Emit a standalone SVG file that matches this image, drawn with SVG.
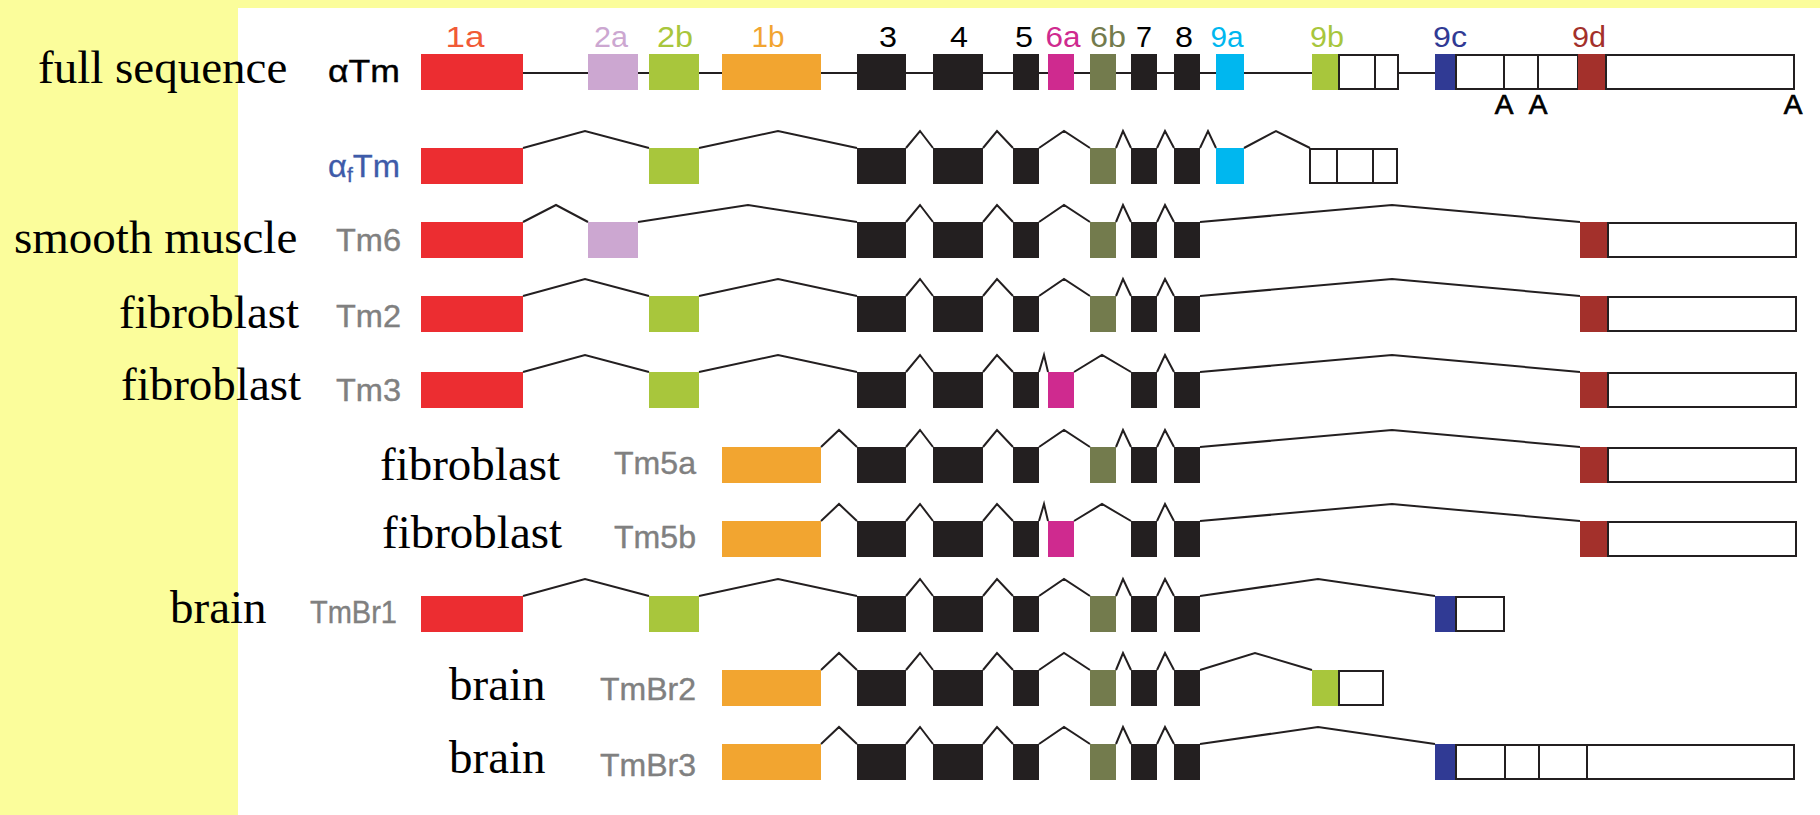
<svg xmlns="http://www.w3.org/2000/svg" width="1820" height="815" viewBox="0 0 1820 815">
<style>
.e1a{fill:#EC2D31}.e2a{fill:#CCA7D1}.e2b{fill:#A8C63C}.e1b{fill:#F2A530}.k{fill:#231F20}
.e6a{fill:#CF2A8F}.e6b{fill:#737B4D}.e9a{fill:#00B7EF}.e9c{fill:#303A94}.e9d{fill:#A3302B}
.u{fill:#fff;stroke:#231F20;stroke-width:2}
.intr{fill:none;stroke:#231F20;stroke-width:2}
.ser{font-family:"Liberation Serif","Times New Roman",serif;font-size:47px;fill:#000}
.sans{font-family:"Liberation Sans",Arial,sans-serif}
.ex{font-size:29px;text-anchor:middle}
.gn{font-size:32px;fill:#808080;stroke:#808080;stroke-width:0.4}
.pa{font-size:28px;text-anchor:middle;fill:#000;stroke:#000;stroke-width:0.7}
</style>
<rect x="0" y="0" width="1820" height="815" fill="#FBFD9B"/>
<rect x="238" y="8" width="1582" height="807" fill="#fff"/>

<g id="connectors">
<line x1="523" y1="73" x2="1435" y2="73" stroke="#231F20" stroke-width="2"/>
<path class="intr" d="M523,148 L585,131 L649,148 M699,148 L778,131 L857,148 M906,148 L920,131 L933,148 M983,148 L997,131 L1013,148 M1039,148 L1064,131 L1090,148 M1116,148 L1123,131 L1131,148 M1157,148 L1165,131 L1174,148 M1200,148 L1208,131 L1216,148 M1244,148 L1276,131 L1310,148"/>
<path class="intr" d="M523,222 L556,205 L588,222 M638,222 L748,205 L857,222 M906,222 L920,205 L933,222 M983,222 L997,205 L1013,222 M1039,222 L1064,205 L1090,222 M1116,222 L1123,205 L1131,222 M1157,222 L1165,205 L1174,222 M1200,222 L1392,205 L1580,222"/>
<path class="intr" d="M523,296 L585,279 L649,296 M699,296 L778,279 L857,296 M906,296 L920,279 L933,296 M983,296 L997,279 L1013,296 M1039,296 L1064,279 L1090,296 M1116,296 L1123,279 L1131,296 M1157,296 L1165,279 L1174,296 M1200,296 L1392,279 L1580,296"/>
<path class="intr" d="M523,372 L585,355 L649,372 M699,372 L778,355 L857,372 M906,372 L920,355 L933,372 M983,372 L997,355 L1013,372 M1039,372 L1044,355 L1048,372 M1074,372 L1102,355 L1131,372 M1157,372 L1165,355 L1174,372 M1200,372 L1392,355 L1580,372"/>
<path class="intr" d="M821,447 L839,430 L857,447 M906,447 L920,430 L933,447 M983,447 L997,430 L1013,447 M1039,447 L1064,430 L1090,447 M1116,447 L1123,430 L1131,447 M1157,447 L1165,430 L1174,447 M1200,447 L1392,430 L1580,447"/>
<path class="intr" d="M821,521 L839,504 L857,521 M906,521 L920,504 L933,521 M983,521 L997,504 L1013,521 M1039,521 L1044,504 L1048,521 M1074,521 L1102,504 L1131,521 M1157,521 L1165,504 L1174,521 M1200,521 L1392,504 L1580,521"/>
<path class="intr" d="M523,596 L585,579 L649,596 M699,596 L778,579 L857,596 M906,596 L920,579 L933,596 M983,596 L997,579 L1013,596 M1039,596 L1064,579 L1090,596 M1116,596 L1123,579 L1131,596 M1157,596 L1165,579 L1174,596 M1200,596 L1318,579 L1435,596"/>
<path class="intr" d="M821,670 L839,653 L857,670 M906,670 L920,653 L933,670 M983,670 L997,653 L1013,670 M1039,670 L1064,653 L1090,670 M1116,670 L1123,653 L1131,670 M1157,670 L1165,653 L1174,670 M1200,670 L1255,653 L1312,670"/>
<path class="intr" d="M821,744 L839,727 L857,744 M906,744 L920,727 L933,744 M983,744 L997,727 L1013,744 M1039,744 L1064,727 L1090,744 M1116,744 L1123,727 L1131,744 M1157,744 L1165,727 L1174,744 M1200,744 L1318,727 L1435,744"/>
</g>

<g id="tissue-labels" class="ser">
<text x="38" y="83">full sequence</text>
<text x="14" y="253">smooth muscle</text>
<text x="119" y="328">fibroblast</text>
<text x="121" y="400">fibroblast</text>
<text x="380" y="480">fibroblast</text>
<text x="382" y="548">fibroblast</text>
<text x="170" y="623">brain</text>
<text x="449" y="700">brain</text>
<text x="449" y="773">brain</text>
</g>

<g id="row-aTm">
<g class="sans ex">
<text x="465" y="47" fill="#F15A36" textLength="39" lengthAdjust="spacingAndGlyphs">1a</text>
<text x="611" y="47" fill="#CCA7D1" textLength="34" lengthAdjust="spacingAndGlyphs">2a</text>
<text x="675" y="47" fill="#A8C63C" textLength="36" lengthAdjust="spacingAndGlyphs">2b</text>
<text x="768" y="47" fill="#F2A530" textLength="33" lengthAdjust="spacingAndGlyphs">1b</text>
<text x="888" y="47" fill="#000" textLength="18" lengthAdjust="spacingAndGlyphs">3</text>
<text x="959" y="47" fill="#000" textLength="18" lengthAdjust="spacingAndGlyphs">4</text>
<text x="1024" y="47" fill="#000" textLength="18" lengthAdjust="spacingAndGlyphs">5</text>
<text x="1063" y="47" fill="#CF2A8F" textLength="35" lengthAdjust="spacingAndGlyphs">6a</text>
<text x="1108" y="47" fill="#737B4D" textLength="36" lengthAdjust="spacingAndGlyphs">6b</text>
<text x="1144" y="47" fill="#000" textLength="16" lengthAdjust="spacingAndGlyphs">7</text>
<text x="1184" y="47" fill="#000" textLength="18" lengthAdjust="spacingAndGlyphs">8</text>
<text x="1227" y="47" fill="#00B7EF" textLength="33" lengthAdjust="spacingAndGlyphs">9a</text>
<text x="1327" y="47" fill="#A8C63C" textLength="34" lengthAdjust="spacingAndGlyphs">9b</text>
<text x="1450" y="47" fill="#303A94" textLength="34" lengthAdjust="spacingAndGlyphs">9c</text>
<text x="1589" y="47" fill="#A3302B" textLength="34" lengthAdjust="spacingAndGlyphs">9d</text>
</g>
<text class="sans" x="328" y="82" font-size="31" fill="#000" stroke="#000" stroke-width="0.4" textLength="72" lengthAdjust="spacingAndGlyphs">αTm</text>
<rect class="e1a" x="421" y="54" width="102" height="36"/>
<rect class="e2a" x="588" y="54" width="50" height="36"/>
<rect class="e2b" x="649" y="54" width="50" height="36"/>
<rect class="e1b" x="722" y="54" width="99" height="36"/>
<rect class="k" x="857" y="54" width="49" height="36"/>
<rect class="k" x="933" y="54" width="50" height="36"/>
<rect class="k" x="1013" y="54" width="26" height="36"/>
<rect class="e6a" x="1048" y="54" width="26" height="36"/>
<rect class="e6b" x="1090" y="54" width="26" height="36"/>
<rect class="k" x="1131" y="54" width="26" height="36"/>
<rect class="k" x="1174" y="54" width="26" height="36"/>
<rect class="e9a" x="1216" y="54" width="28" height="36"/>
<rect class="e2b" x="1312" y="54" width="26" height="36"/>
<rect class="u" x="1339" y="55" width="36" height="34"/>
<rect class="u" x="1375" y="55" width="23" height="34"/>
<rect class="e9c" x="1435" y="54" width="21" height="36"/>
<rect class="u" x="1456" y="55" width="48" height="34"/>
<rect class="u" x="1504" y="55" width="34" height="34"/>
<rect class="u" x="1538" y="55" width="40" height="34"/>
<rect class="e9d" x="1578" y="54" width="27" height="36"/>
<rect class="u" x="1606" y="55" width="188" height="34"/>
<g class="sans pa">
<text x="1504" y="114">A</text>
<text x="1538" y="114">A</text>
<text x="1793" y="114">A</text>
</g>
</g>

<g id="row-afTm">
<text class="sans" x="328" y="177" font-size="31" fill="#3E5BA9" stroke="#3E5BA9" stroke-width="0.3" textLength="72" lengthAdjust="spacingAndGlyphs">α<tspan font-size="20" dy="5">f</tspan><tspan dy="-5">Tm</tspan></text>
<rect class="e1a" x="421" y="148" width="102" height="36"/>
<rect class="e2b" x="649" y="148" width="50" height="36"/>
<rect class="k" x="857" y="148" width="49" height="36"/>
<rect class="k" x="933" y="148" width="50" height="36"/>
<rect class="k" x="1013" y="148" width="26" height="36"/>
<rect class="e6b" x="1090" y="148" width="26" height="36"/>
<rect class="k" x="1131" y="148" width="26" height="36"/>
<rect class="k" x="1174" y="148" width="26" height="36"/>
<rect class="e9a" x="1216" y="148" width="28" height="36"/>
<rect class="u" x="1310" y="149" width="27" height="34"/>
<rect class="u" x="1337" y="149" width="36" height="34"/>
<rect class="u" x="1373" y="149" width="24" height="34"/>
</g>

<g id="row-Tm6">
<text class="sans gn" x="336" y="251" textLength="65" lengthAdjust="spacingAndGlyphs">Tm6</text>
<rect class="e1a" x="421" y="222" width="102" height="36"/>
<rect class="e2a" x="588" y="222" width="50" height="36"/>
<rect class="k" x="857" y="222" width="49" height="36"/>
<rect class="k" x="933" y="222" width="50" height="36"/>
<rect class="k" x="1013" y="222" width="26" height="36"/>
<rect class="e6b" x="1090" y="222" width="26" height="36"/>
<rect class="k" x="1131" y="222" width="26" height="36"/>
<rect class="k" x="1174" y="222" width="26" height="36"/>
<rect class="e9d" x="1580" y="222" width="27" height="36"/>
<rect class="u" x="1608" y="223" width="188" height="34"/>
</g>

<g id="row-Tm2">
<text class="sans gn" x="336" y="327" textLength="65" lengthAdjust="spacingAndGlyphs">Tm2</text>
<rect class="e1a" x="421" y="296" width="102" height="36"/>
<rect class="e2b" x="649" y="296" width="50" height="36"/>
<rect class="k" x="857" y="296" width="49" height="36"/>
<rect class="k" x="933" y="296" width="50" height="36"/>
<rect class="k" x="1013" y="296" width="26" height="36"/>
<rect class="e6b" x="1090" y="296" width="26" height="36"/>
<rect class="k" x="1131" y="296" width="26" height="36"/>
<rect class="k" x="1174" y="296" width="26" height="36"/>
<rect class="e9d" x="1580" y="296" width="27" height="36"/>
<rect class="u" x="1608" y="297" width="188" height="34"/>
</g>

<g id="row-Tm3">
<text class="sans gn" x="336" y="401" textLength="65" lengthAdjust="spacingAndGlyphs">Tm3</text>
<rect class="e1a" x="421" y="372" width="102" height="36"/>
<rect class="e2b" x="649" y="372" width="50" height="36"/>
<rect class="k" x="857" y="372" width="49" height="36"/>
<rect class="k" x="933" y="372" width="50" height="36"/>
<rect class="k" x="1013" y="372" width="26" height="36"/>
<rect class="e6a" x="1048" y="372" width="26" height="36"/>
<rect class="k" x="1131" y="372" width="26" height="36"/>
<rect class="k" x="1174" y="372" width="26" height="36"/>
<rect class="e9d" x="1580" y="372" width="27" height="36"/>
<rect class="u" x="1608" y="373" width="188" height="34"/>
</g>

<g id="row-Tm5a">
<text class="sans gn" x="614" y="474" textLength="82" lengthAdjust="spacingAndGlyphs">Tm5a</text>
<rect class="e1b" x="722" y="447" width="99" height="36"/>
<rect class="k" x="857" y="447" width="49" height="36"/>
<rect class="k" x="933" y="447" width="50" height="36"/>
<rect class="k" x="1013" y="447" width="26" height="36"/>
<rect class="e6b" x="1090" y="447" width="26" height="36"/>
<rect class="k" x="1131" y="447" width="26" height="36"/>
<rect class="k" x="1174" y="447" width="26" height="36"/>
<rect class="e9d" x="1580" y="447" width="27" height="36"/>
<rect class="u" x="1608" y="448" width="188" height="34"/>
</g>

<g id="row-Tm5b">
<text class="sans gn" x="614" y="548" textLength="82" lengthAdjust="spacingAndGlyphs">Tm5b</text>
<rect class="e1b" x="722" y="521" width="99" height="36"/>
<rect class="k" x="857" y="521" width="49" height="36"/>
<rect class="k" x="933" y="521" width="50" height="36"/>
<rect class="k" x="1013" y="521" width="26" height="36"/>
<rect class="e6a" x="1048" y="521" width="26" height="36"/>
<rect class="k" x="1131" y="521" width="26" height="36"/>
<rect class="k" x="1174" y="521" width="26" height="36"/>
<rect class="e9d" x="1580" y="521" width="27" height="36"/>
<rect class="u" x="1608" y="522" width="188" height="34"/>
</g>

<g id="row-TmBr1">
<text class="sans gn" x="310" y="623" textLength="87" lengthAdjust="spacingAndGlyphs">TmBr1</text>
<rect class="e1a" x="421" y="596" width="102" height="36"/>
<rect class="e2b" x="649" y="596" width="50" height="36"/>
<rect class="k" x="857" y="596" width="49" height="36"/>
<rect class="k" x="933" y="596" width="50" height="36"/>
<rect class="k" x="1013" y="596" width="26" height="36"/>
<rect class="e6b" x="1090" y="596" width="26" height="36"/>
<rect class="k" x="1131" y="596" width="26" height="36"/>
<rect class="k" x="1174" y="596" width="26" height="36"/>
<rect class="e9c" x="1435" y="596" width="21" height="36"/>
<rect class="u" x="1456" y="597" width="48" height="34"/>
</g>

<g id="row-TmBr2">
<text class="sans gn" x="600" y="700" textLength="96" lengthAdjust="spacingAndGlyphs">TmBr2</text>
<rect class="e1b" x="722" y="670" width="99" height="36"/>
<rect class="k" x="857" y="670" width="49" height="36"/>
<rect class="k" x="933" y="670" width="50" height="36"/>
<rect class="k" x="1013" y="670" width="26" height="36"/>
<rect class="e6b" x="1090" y="670" width="26" height="36"/>
<rect class="k" x="1131" y="670" width="26" height="36"/>
<rect class="k" x="1174" y="670" width="26" height="36"/>
<rect class="e2b" x="1312" y="670" width="26" height="36"/>
<rect class="u" x="1339" y="671" width="44" height="34"/>
</g>

<g id="row-TmBr3">
<text class="sans gn" x="600" y="776" textLength="96" lengthAdjust="spacingAndGlyphs">TmBr3</text>
<rect class="e1b" x="722" y="744" width="99" height="36"/>
<rect class="k" x="857" y="744" width="49" height="36"/>
<rect class="k" x="933" y="744" width="50" height="36"/>
<rect class="k" x="1013" y="744" width="26" height="36"/>
<rect class="e6b" x="1090" y="744" width="26" height="36"/>
<rect class="k" x="1131" y="744" width="26" height="36"/>
<rect class="k" x="1174" y="744" width="26" height="36"/>
<rect class="e9c" x="1435" y="744" width="21" height="36"/>
<rect class="u" x="1456" y="745" width="49" height="34"/>
<rect class="u" x="1505" y="745" width="34" height="34"/>
<rect class="u" x="1539" y="745" width="48" height="34"/>
<rect class="u" x="1587" y="745" width="207" height="34"/>
</g>
</svg>
